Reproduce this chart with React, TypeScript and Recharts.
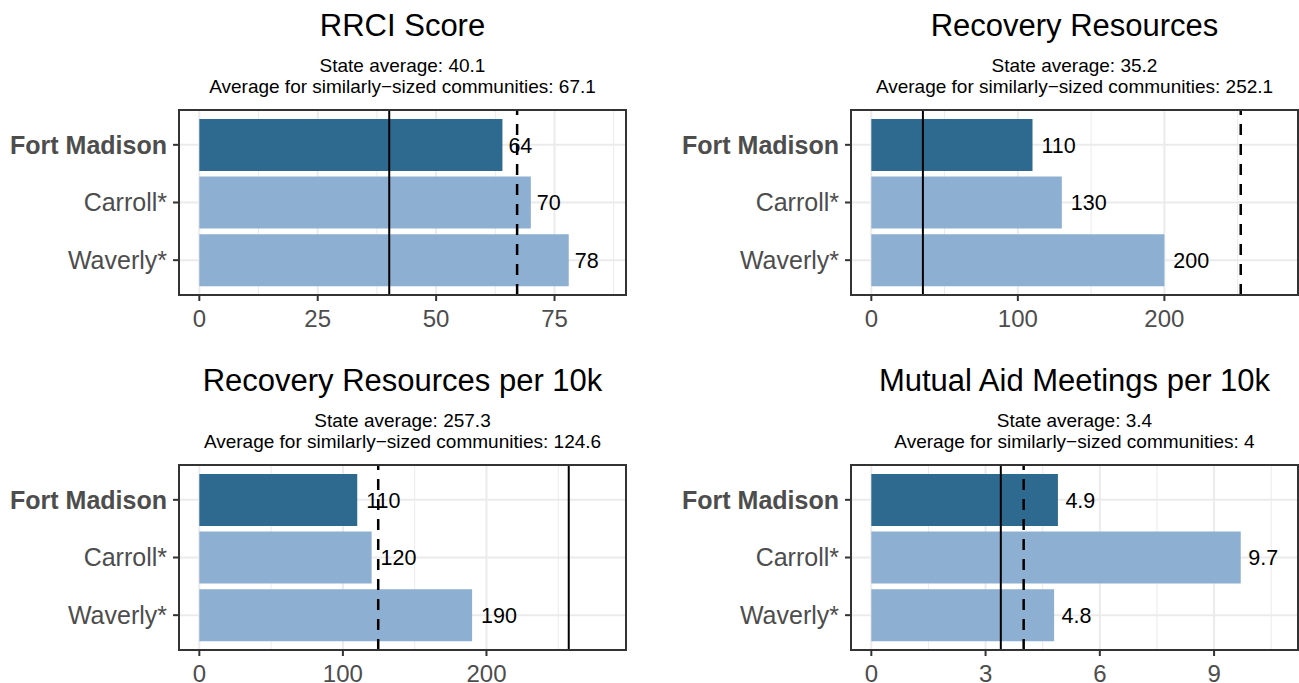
import { BarChart, Bar, XAxis, YAxis, CartesianGrid, ReferenceLine, Cell, LabelList } from 'recharts';

const FONT = '"Liberation Sans", Arial, Helvetica, sans-serif';

const communities = ['Fort Madison', 'Carroll*', 'Waverly*'];
const highlighted = 'Fort Madison';

const rrciScore = [64, 70, 78];
const recoveryResources = [110, 130, 200];
const recoveryPer10k = [110, 120, 190];
const mutualAidPer10k = [4.9, 9.7, 4.8];

const panelTitles = [
  'RRCI Score',
  'Recovery Resources',
  'Recovery Resources per 10k',
  'Mutual Aid Meetings per 10k',
];
const stateAverages = [40.1, 35.2, 257.3, 3.4];
const similarAverages = [67.1, 252.1, 124.6, 4];

const rrciTicks = [0, 25, 50, 75];
const resourceTicks = [0, 100, 200];
const mutualAidTicks = [0, 3, 6, 9];

const panelValues = [rrciScore, recoveryResources, recoveryPer10k, mutualAidPer10k];
const panelTicks = [rrciTicks, resourceTicks, resourceTicks, mutualAidTicks];

const DARK = '#2E6A8F';
const LIGHT = '#8DAFD2';
const GRID = '#EBEBEB';
const XTICK_SIZE = 24;
const YTICK_SIZE = 25;
const LABEL_SIZE = 21.5;
const TITLE_SIZE = 31;
const SUB_SIZE = 19;
const PLOT_H = 185;

const CommunityTick = (props: any) => {
  const { x, y, payload } = props;
  const bold = payload.value === highlighted;
  return (
    <text
      x={x}
      y={y}
      dy="0.355em"
      textAnchor="end"
      fontSize={YTICK_SIZE}
      fill="#4D4D4D"
      fontWeight={bold ? 700 : 400}
      fontFamily={FONT}
    >
      {payload.value}
    </text>
  );
};

// ggplot-style hjust = -0.25: nudge by a quarter of the text width
const renderValueLabel = (props: any) => {
  const { x, y, width, height, value } = props;
  const text = String(value);
  const textW = [...text].reduce((s, c) => s + (c === '.' ? 0.278 : 0.556), 0) * LABEL_SIZE;
  return (
    <text
      x={Number(x) + Number(width) + 0.25 * textW}
      y={Number(y) + Number(height) / 2}
      dy="0.355em"
      fontSize={LABEL_SIZE}
      fill="#000"
      fontFamily={FONT}
    >
      {text}
    </text>
  );
};

function Panel({ index }: { index: number }) {
  const col = index % 2;
  const row = Math.floor(index / 2);
  const values = panelValues[index];
  const ticks = panelTicks[index];
  const state = stateAverages[index];
  const similar = similarAverages[index];

  const plotLeft = col ? 851 : 179;
  const plotRight = col ? 1298 : 626;
  const plotTop = row ? 465 : 110;
  const plotW = plotRight - plotLeft;
  const boxLeft = col ? 650 : 0;
  const boxW = col ? 649 : 650;

  // limits = 1.1 * max, then 5% expansion either side
  const lim = 1.1 * Math.max(...values, state, similar);
  const domain = [-0.05 * lim, 1.05 * lim];
  const step = ticks[1] - ticks[0];
  const minor = [...ticks, ticks[ticks.length - 1] + step]
    .map((t) => t + step / 2)
    .filter((t) => t < domain[1]);

  const data = communities.map((name, i) => ({ name, value: values[i] }));

  return (
    <>
      <div
        style={{
          position: 'absolute',
          left: plotLeft - 40,
          width: plotW + 80,
          top: plotTop - 74 - 0.8465 * TITLE_SIZE,
          fontSize: TITLE_SIZE,
          lineHeight: `${TITLE_SIZE}px`,
          textAlign: 'center',
          whiteSpace: 'nowrap',
          color: '#000',
        }}
      >
        {panelTitles[index]}
      </div>
      <div
        style={{
          position: 'absolute',
          left: plotLeft - 40,
          width: plotW + 80,
          top: plotTop - 38 - 0.8465 * SUB_SIZE,
          fontSize: SUB_SIZE,
          lineHeight: `${SUB_SIZE}px`,
          textAlign: 'center',
          whiteSpace: 'nowrap',
          color: '#000',
        }}
      >
        <div style={{ height: 21 }}>State average: {state}</div>
        <div style={{ height: 21 }}>Average for similarly−sized communities: {similar}</div>
      </div>
      <div style={{ position: 'absolute', left: boxLeft, top: plotTop - 10 }}>
        <BarChart
          layout="vertical"
          width={boxW}
          height={10 + PLOT_H + 40}
          data={data}
          margin={{ top: 10, right: boxLeft + boxW - plotRight, left: 0, bottom: 0 }}
          barCategoryGap="5%"
        >
          <CartesianGrid horizontal={false} verticalValues={minor} stroke={GRID} strokeWidth={1} />
          <CartesianGrid stroke={GRID} strokeWidth={2} />
          <XAxis
            type="number"
            domain={domain}
            ticks={ticks}
            allowDataOverflow
            axisLine={false}
            tickSize={6}
            tickMargin={9}
            tickLine={{ stroke: '#333333', strokeWidth: 2 }}
            tick={{ fontSize: XTICK_SIZE, fill: '#4D4D4D', fontFamily: FONT }}
            height={40}
          />
          <YAxis
            type="category"
            dataKey="name"
            width={plotLeft - boxLeft}
            padding={{ top: 6, bottom: 6 }}
            axisLine={false}
            tickSize={6}
            tickMargin={6}
            tickLine={{ stroke: '#333333', strokeWidth: 2 }}
            tick={<CommunityTick />}
          />
          <Bar dataKey="value" isAnimationActive={false}>
            {data.map((d) => (
              <Cell key={d.name} fill={d.name === highlighted ? DARK : LIGHT} />
            ))}
            <LabelList dataKey="value" content={renderValueLabel} />
          </Bar>
          <ReferenceLine x={state} stroke="#000" strokeWidth={2} />
          <ReferenceLine x={similar} stroke="#000" strokeWidth={2.5} strokeDasharray="11 9" />
        </BarChart>
      </div>
      <div
        style={{
          position: 'absolute',
          left: plotLeft - 1,
          top: plotTop - 1,
          width: plotW + 2,
          height: PLOT_H + 2,
          border: '2px solid #333333',
          boxSizing: 'border-box',
          pointerEvents: 'none',
        }}
      />
    </>
  );
}

export default function App() {
  return (
    <div
      style={{
        position: 'fixed',
        left: 0,
        top: 0,
        width: 1299,
        height: 683,
        background: '#fff',
        fontFamily: FONT,
        overflow: 'hidden',
      }}
    >
      {[0, 1, 2, 3].map((i) => (
        <Panel key={i} index={i} />
      ))}
    </div>
  );
}
